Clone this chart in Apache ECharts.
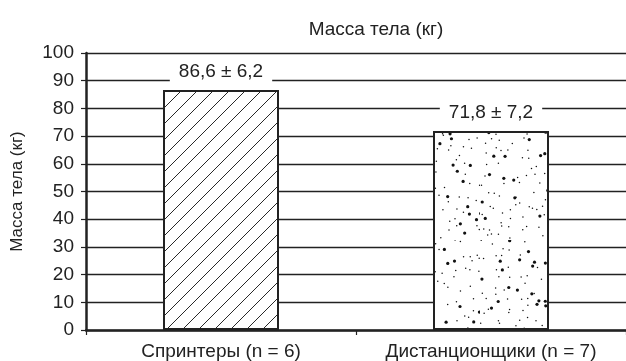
<!DOCTYPE html>
<html>
<head>
<meta charset="utf-8">
<script src="https://cdn.jsdelivr.net/npm/echarts@6/dist/echarts.min.js"></script>
<style>
  html, body { margin: 0; padding: 0; background: #fff; }
  #chart { width: 626px; height: 361px; }
</style>
</head>
<body>
<div id="chart"></div>
<script>
const categories = ['Спринтеры (n = 6)', 'Дистанционщики (n = 7)']
const means = [86.6, 71.8]
const sds = [6.2, 7.2]
const yTicks = [0, 10, 20, 30, 40, 50, 60, 70, 80, 90, 100]

const ink = '#222'
const font = '"Liberation Sans", Arial, sans-serif'

// диагональная штриховка
function hatchPattern() {
  const c = document.createElement('canvas')
  c.width = 16
  c.height = 16
  const ctx = c.getContext('2d')
  ctx.fillStyle = '#fff'
  ctx.fillRect(0, 0, 16, 16)
  ctx.strokeStyle = '#111'
  ctx.lineWidth = 0.9
  ctx.beginPath()
  ctx.moveTo(-2, 18); ctx.lineTo(18, -2)
  ctx.moveTo(-2, 2); ctx.lineTo(2, -2)
  ctx.moveTo(14, 18); ctx.lineTo(18, 14)
  ctx.stroke()
  return c
}

// точечная заливка (фиксированное зерно, просто текстура)
function dotPattern() {
  const w = 120, h = 240
  const c = document.createElement('canvas')
  c.width = w
  c.height = h
  const ctx = c.getContext('2d')
  ctx.fillStyle = '#fff'
  ctx.fillRect(0, 0, w, h)
  ctx.fillStyle = '#111'
  let a = 987654321
  const next = () => {
    a = (a + 0x6D2B79F5) | 0
    let t = Math.imul(a ^ (a >>> 15), 1 | a)
    t = (t + Math.imul(t ^ (t >>> 7), 61 | t)) ^ t
    return ((t ^ (t >>> 14)) >>> 0) / 4294967296
  }
  // стратифицированная сетка, чтобы точки лежали равномернее
  const step = 9
  for (let gy = 0; gy < h; gy += step) {
    for (let gx = 0; gx < w; gx += step) {
      if (next() < 0.25) continue
      const x = gx + next() * step
      const y = gy + next() * step
      const r = next() < 0.22 ? 1.6 : 0.75
      ctx.beginPath()
      ctx.arc(x, y, r, 0, Math.PI * 2)
      ctx.fill()
    }
  }
  return c
}

const fills = [
  { image: hatchPattern(), repeat: 'repeat' },
  { image: dotPattern(), repeat: 'repeat' }
]

const fmt = v => v.toFixed(1).replace('.', ',')

const chart = echarts.init(document.getElementById('chart'), null, { renderer: 'canvas' })

chart.setOption({
  backgroundColor: '#fff',
  animation: false,
  title: {
    text: 'Масса тела (кг)',
    left: 371,
    top: 15,
    textAlign: 'center',
    textStyle: { color: ink, fontFamily: font, fontSize: 19, fontWeight: 'normal' }
  },
  grid: { left: 86, top: 53, right: 0, bottom: 30, containLabel: false },
  xAxis: {
    type: 'category',
    data: categories,
    axisLine: { lineStyle: { color: ink, width: 2.5 } },
    axisTick: { show: true, alignWithLabel: false, length: 5, lineStyle: { color: ink, width: 1.2 } },
    axisLabel: { color: ink, fontFamily: font, fontSize: 19, margin: 12, interval: 0, hideOverlap: false },
    splitLine: { show: false }
  },
  yAxis: {
    type: 'value',
    min: yTicks[0],
    max: yTicks[yTicks.length - 1],
    interval: yTicks[1] - yTicks[0],
    name: 'Масса тела (кг)',
    nameLocation: 'middle',
    nameRotate: 90,
    nameGap: 60,
    nameTextStyle: { color: ink, fontFamily: font, fontSize: 17 },
    axisLine: { show: true, lineStyle: { color: ink, width: 2.5 } },
    axisTick: { show: true, length: 5, lineStyle: { color: ink, width: 1.2 } },
    axisLabel: { color: ink, fontFamily: font, fontSize: 19, margin: 12 },
    splitLine: { show: true, lineStyle: { color: ink, width: 1.3 } }
  },
  series: [{
    type: 'bar',
    barWidth: 116,
    data: means.map((v, i) => ({
      value: v,
      itemStyle: { color: fills[i], borderColor: ink, borderWidth: 2 },
      label: {
        show: true,
        position: 'top',
        distance: 8,
        formatter: () => fmt(v) + ' ± ' + fmt(sds[i]),
        color: ink,
        fontFamily: font,
        fontSize: 19,
        backgroundColor: '#fff',
        padding: [1, 9]
      }
    }))
  }]
})
</script>
</body>
</html>
